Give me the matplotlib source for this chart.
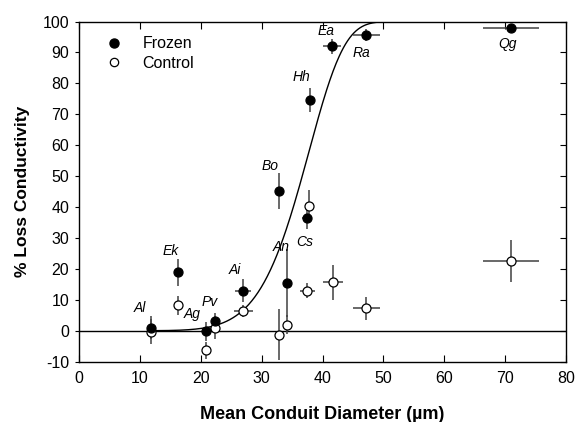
import numpy as np
import matplotlib
matplotlib.use("Agg")
import matplotlib.pyplot as plt

plt.rcParams['font.family'] = ['Liberation Sans', 'DejaVu Sans']
plt.rcParams['axes.unicode_minus'] = False

species = ['Al', 'Ek', 'Ag', 'Pv', 'Ai', 'Bo', 'An', 'Cs', 'Hh', 'Ea', 'Ra', 'Qg']

# frozen samples: mean conduit diameter, % loss, and errors
frozen_x = [11.8, 16.3, 20.9, 22.4, 27.0, 32.8, 34.2, 37.5, 37.9, 41.6, 47.2, 71.0]
frozen_y = [1.0, 18.9, -0.2, 3.0, 12.9, 45.3, 15.3, 36.5, 74.6, 92.0, 95.6, 98.0]
frozen_xerr = [0, 0, 0, 0.5, 1.3, 0, 0, 0.8, 0, 1.5, 2.2, 4.6]
frozen_yerr = [3.8, 4.3, 3.1, 2.8, 3.7, 5.8, 11.0, 3.5, 3.8, 2.5, 2.0, 0.5]

# controls
control_x = [11.8, 16.3, 20.9, 22.4, 27.0, 32.8, 34.2, 37.8, 37.5, 41.7, 47.2, 71.0]
control_y = [-0.3, 8.2, -6.3, 1.0, 6.3, -1.3, 2.0, 40.5, 13.0, 15.6, 7.2, 22.6]
control_xerr = [0, 0, 0, 0.8, 1.5, 0, 0, 0, 1.2, 1.6, 2.2, 4.6]
control_yerr = [4.0, 3.0, 2.8, 3.8, 2.0, 8.3, 3.0, 5.0, 2.5, 5.8, 3.6, 6.7]

# where the species names sit (text centres)
label_x = [10.0, 15.0, 18.6, 21.5, 25.6, 31.4, 33.2, 37.0, 36.5, 40.6, 46.4, 70.4]
label_y = [7.5, 25.7, 5.4, 9.2, 19.6, 53.4, 27.0, 28.6, 82.2, 96.9, 89.7, 92.8]

# Weibull fit through the frozen data
weib_scale = 38.5
weib_shape = 7.5

fig = plt.figure(figsize=(5.76, 4.22), dpi=100)
ax = fig.add_axes([0.137, 0.143, 0.846, 0.806])

ax.axhline(0, color='black', lw=1.0, zorder=1)

xf = np.linspace(11.8, 80, 400)
ax.plot(xf, 100 * (1 - np.exp(-(xf / weib_scale) ** weib_shape)), color='black', lw=1.0, zorder=2)

ebar = dict(ecolor='#404040', elinewidth=1.1, capsize=0, ls='none', zorder=3)
ax.errorbar(control_x, control_y, xerr=control_xerr, yerr=control_yerr,
            marker='o', ms=6.5, mfc='white', mec='black', mew=0.9, **ebar)
ax.errorbar(frozen_x, frozen_y, xerr=frozen_xerr, yerr=frozen_yerr,
            marker='o', ms=6.5, mfc='black', mec='black', mew=0.9, **ebar)

for name, lx, ly in zip(species, label_x, label_y):
    ax.text(lx, ly, name, fontsize=10, style='italic', ha='center', va='center')

# legend
h1, = ax.plot([], [], 'o', ms=6.5, mfc='black', mec='black', ls='none')
h2, = ax.plot([], [], 'o', ms=6, mfc='white', mec='black', mew=0.9, ls='none')
ax.legend([h1, h2], ['Frozen', 'Control'], loc='upper left', bbox_to_anchor=(0.035, 0.985),
          frameon=False, fontsize=11.5, handlelength=1.0, handletextpad=1.3,
          labelspacing=0.3, borderaxespad=0.2)

ax.set_xlim(0, 80)
ax.set_ylim(-10, 100)
ax.set_xticks(np.arange(0, 81, 10))
ax.set_yticks(np.arange(-10, 101, 10))
ax.tick_params(axis='x', direction='in', top=True, length=5, labelsize=11.5, pad=7)
ax.tick_params(axis='y', direction='out', right=True, length=3, labelsize=11.5, pad=4)
# right-hand ticks point into the plot
for t in ax.yaxis.get_ticklines()[1::2]:
    t.set_marker(0)
    t.set_markersize(4)
for s in ax.spines.values():
    s.set_linewidth(1.0)

ax.set_xlabel('Mean Conduit Diameter (µm)', fontsize=13, fontweight='bold', labelpad=14)
ax.set_ylabel('% Loss Conductivity', fontsize=12.5, fontweight='bold', labelpad=9)

fig.savefig('out.png', dpi=100)
